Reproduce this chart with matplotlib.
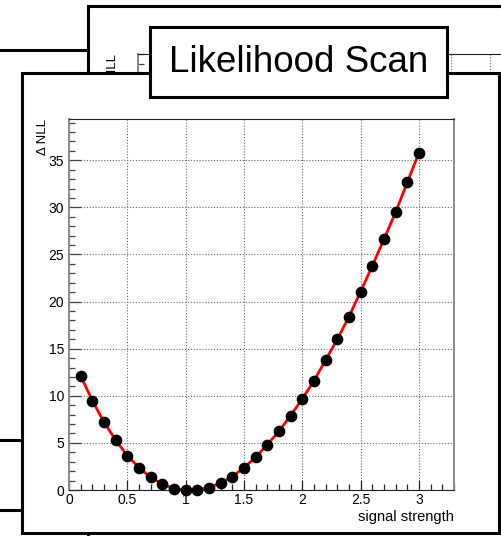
import matplotlib
matplotlib.use('Agg')
import matplotlib.pyplot as plt
from matplotlib.patches import Rectangle
from matplotlib.ticker import MultipleLocator, FormatStrFormatter

plt.rcParams['font.family'] = ['Liberation Sans', 'DejaVu Sans']

# scan points
signal_strength = [0.1, 0.2, 0.3, 0.4, 0.5, 0.6, 0.7, 0.8, 0.9, 1.0,
                   1.1, 1.2, 1.3, 1.4, 1.5, 1.6, 1.7, 1.8, 1.9, 2.0,
                   2.1, 2.2, 2.3, 2.4, 2.5, 2.6, 2.7, 2.8, 2.9, 3.0]
delta_nll = [12.1, 9.5, 7.2, 5.3, 3.65, 2.37, 1.35, 0.64, 0.14, 0.0,
             0.05, 0.25, 0.74, 1.42, 2.37, 3.48, 4.82, 6.24, 7.9, 9.68,
             11.6, 13.8, 16.0, 18.4, 21.06, 23.8, 26.6, 29.5, 32.66, 35.8]

TITLE = 'Likelihood Scan'
XLABEL = 'signal strength'
YLABEL = '\u0394 NLL'

W, H = 502, 536
BOX_LW = 2.2
GRID_KW = dict(color='#6a6a6a', linestyle=(0, (1, 1.6)), linewidth=0.8)

fig = plt.figure(figsize=(W / 100, H / 100), dpi=100)


def pixel_axes(z):
    # full-figure overlay, pixel coordinates with origin top-left
    a = fig.add_axes([0, 0, 1, 1])
    a.set_xlim(0, W)
    a.set_ylim(H, 0)
    a.axis('off')
    a.set_zorder(z)
    return a


def box(a, x0, y0, x1, y1):
    a.add_patch(Rectangle((x0, y0), x1 - x0, y1 - y0, facecolor='white',
                          edgecolor='black', linewidth=BOX_LW, clip_on=False))


def style_frame(a, ymax, xmax):
    a.set_xlim(0, xmax)
    a.set_ylim(0, ymax)
    a.xaxis.set_major_locator(MultipleLocator(0.5))
    a.xaxis.set_minor_locator(MultipleLocator(0.1))
    a.xaxis.set_major_formatter(FormatStrFormatter('%g'))
    a.yaxis.set_major_locator(MultipleLocator(5))
    a.yaxis.set_minor_locator(MultipleLocator(1))
    a.tick_params(which='both', direction='in', top=False, right=False,
                  labelsize=10)
    a.tick_params(axis='y', which='major', length=8.5, width=0.9,
                  color='#444444', pad=3.5)
    a.tick_params(axis='y', which='minor', length=4.5, width=0.9,
                  color='#444444')
    a.tick_params(axis='x', which='major', length=7.5, width=0.9,
                  color='#222222', pad=2)
    a.tick_params(axis='x', which='minor', length=4.3, width=0.9,
                  color='#222222')
    a.spines['left'].set_color('#8a8a8a')
    a.spines['right'].set_color('#8a8a8a')
    a.spines['left'].set_linewidth(1.4)
    a.spines['right'].set_linewidth(1.4)
    a.spines['top'].set_color('#222222')
    a.spines['bottom'].set_color('#222222')
    a.grid(True, which='major', **GRID_KW)
    a.set_axisbelow(True)
    a.set_ylabel(YLABEL, fontsize=9.5, loc='top')
    a.yaxis.set_label_coords(-0.052, 1.0)


# pads lying behind
bg = pixel_axes(0)
bg.plot([-5, 88], [50, 50], color='black', linewidth=BOX_LW, clip_on=False)
bg.plot([-5, 22], [440, 440], color='black', linewidth=BOX_LW, clip_on=False)
bg.plot([-5, 22], [510, 510], color='black', linewidth=BOX_LW, clip_on=False)
box(bg, 88, 5.5, 540, 560)

# earlier copy of the scan, only its top strip shows above the front pad
back = fig.add_axes([138 / W, (H - 54 - 371) / H, 360 / W, 371 / H])
back.set_zorder(1)
style_frame(back, 39.0, 4.6)
back.spines['right'].set_visible(False)  # frame runs on past the picture edge
back.plot(signal_strength, delta_nll, color='red', linewidth=2.0)
back.plot(signal_strength, delta_nll, linestyle='none', marker='o',
          markersize=7.4, color='black')
back.set_xlabel(XLABEL, fontsize=10.5, loc='right')
bg.plot([490, W + 5], [54, 54], color='#222222', linewidth=0.8,
        clip_on=False)

# front pad
front_pad = pixel_axes(2)
box(front_pad, 22, 73, 499, 533)

ax = fig.add_axes([69 / W, (H - 490) / H, 385 / W, 371 / H])
ax.set_zorder(3)
style_frame(ax, max(delta_nll) * 1.1, 3.3)
ax.plot(signal_strength, delta_nll, color='red', linewidth=2.0, zorder=3,
        clip_on=False)
ax.plot(signal_strength, delta_nll, linestyle='none', marker='o',
        markersize=7.4, color='black', zorder=4, clip_on=False)
ax.set_xlabel(XLABEL, fontsize=10.5, loc='right')
ax.xaxis.set_label_coords(1.0, -0.055)

# title box on top of everything
top = pixel_axes(4)
box(top, 150, 27, 447, 97)
top.text(298.5, 62, TITLE, fontsize=26.5, ha='center', va='center')

fig.savefig('out.png', dpi=100)
